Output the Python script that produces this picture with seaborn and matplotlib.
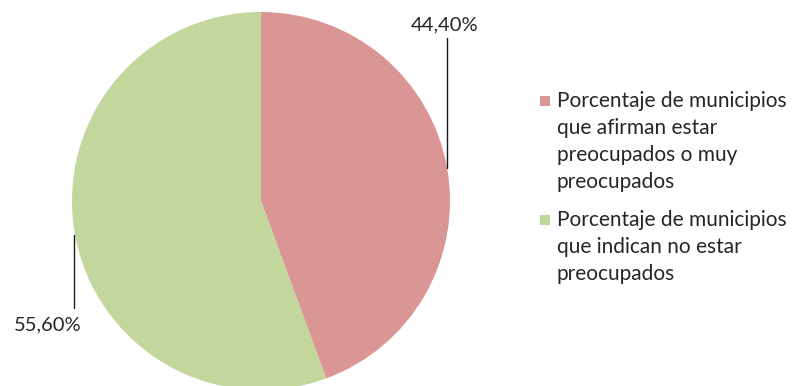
import matplotlib
matplotlib.use("Agg")
import matplotlib.pyplot as plt
from matplotlib.patches import Rectangle
import seaborn as sns

# Data
categories = [
    "Porcentaje de municipios\nque afirman estar\npreocupados o muy\npreocupados",
    "Porcentaje de municipios\nque indican no estar\npreocupados",
]
values = [44.40, 55.60]
colors = ["#D99694", "#C3D69B"]

sns.set_theme(style="white")
plt.rcParams["font.family"] = ["Lato", "DejaVu Sans"]

W, H = 792, 386
fig = plt.figure(figsize=(W / 100, H / 100), dpi=100)
ax = fig.add_axes([0, 0, 1, 1])

wedges, _ = ax.pie(
    values,
    colors=colors,
    startangle=90,
    counterclock=False,
    center=(261, 185),
    radius=189,
    frame=True,
    wedgeprops=dict(linewidth=0),
)
ax.set_xlim(0, W)
ax.set_ylim(0, H)
ax.axis("off")

def fmt(v):
    return f"{v:.2f}%".replace(".", ",")

text_color = "#262626"

# leader line + label for each slice
ax.plot([447, 447], [218, 348], color="#1a1a1a", lw=1.0)
ax.text(445, 361, fmt(values[0]), ha="center", va="center", fontsize=14.5, color=text_color)
ax.plot([74, 74], [78, 151], color="#1a1a1a", lw=1.0)
ax.text(48, 61, fmt(values[1]), ha="center", va="center", fontsize=14.5, color=text_color)

# legend: colour square beside the first line of each entry, wrapped lines below
first_baselines = [279, 160]
line_step = 27
for label, col, y0 in zip(categories, colors, first_baselines):
    ax.add_patch(Rectangle((540, y0 + 1), 10, 10, facecolor=col, edgecolor="none"))
    for i, line in enumerate(label.split("\n")):
        ax.text(557, y0 - i * line_step, line, ha="left", va="baseline",
                fontsize=15, color=text_color)

fig.savefig("out.png", dpi=100)
